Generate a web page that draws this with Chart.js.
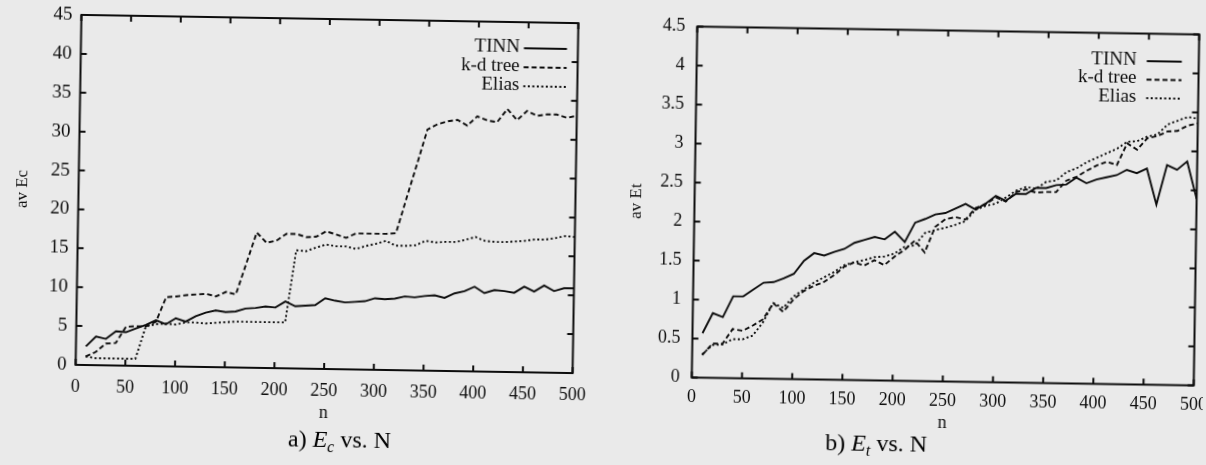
<!DOCTYPE html>
<html><head><meta charset="utf-8">
<script src="https://cdn.jsdelivr.net/npm/chart.js@4.4.0/dist/chart.umd.min.js"></script>
<style>
html,body{margin:0;padding:0;width:1206px;height:465px;overflow:hidden;background:#eaeaea;}
.wrap{position:absolute;top:0;height:465px;width:603px;}
#wa{left:0;transform-origin:327px 194px;transform:rotate(0.95deg);}
#wb{left:603px;transform-origin:342.5px 206px;transform:rotate(0.9deg);}
canvas{display:block;position:absolute;left:0;top:0;}
.cap{position:absolute;font-family:'Liberation Serif','DejaVu Serif',serif;font-size:24px;color:#000;white-space:nowrap;line-height:28px;}
.cap sub{font-size:16px;vertical-align:-5px;line-height:0;}
</style></head>
<body>
<div class="wrap" id="wa"><canvas id="ca" width="603" height="465"></canvas>
  <div class="cap" style="left:292px;top:425px;">a) <i>E</i><sub><i>c</i></sub> vs. N</div>
</div>
<div class="wrap" id="wb"><canvas id="cb" width="603" height="465"></canvas>
  <div class="cap" style="left:226px;top:430px;">b) <i>E</i><sub><i>t</i></sub> vs. N</div>
</div>
<script>
// ---- data ----
const nValues = [10,20,30,40,50,60,70,80,90,100,110,120,130,140,150,160,170,180,190,200,
  210,220,230,240,250,260,270,280,290,300,310,320,330,340,350,360,370,380,390,400,
  410,420,430,440,450,460,470,480,490,500];
const seriesNames = ['TINN','k-d tree','Elias'];

// a) Ec vs N
const ecTINN = [2.4,3.7,3.4,4.4,4.3,4.8,5.3,5.9,5.4,6.2,5.8,6.5,7.0,7.3,7.1,7.2,7.6,7.7,7.9,7.8,
  8.6,8.0,8.1,8.2,9.1,8.8,8.6,8.7,8.8,9.2,9.1,9.2,9.5,9.4,9.6,9.7,9.4,10.0,10.3,10.9,
  10.1,10.5,10.4,10.2,11.0,10.4,11.2,10.5,10.9,10.9];
const ecKd = [1.1,1.7,2.8,2.9,5.0,5.1,5.1,5.7,8.9,9.0,9.2,9.3,9.4,9.1,9.7,9.4,13.4,17.4,16.1,16.4,
  17.3,17.3,16.9,17.0,17.7,17.3,16.9,17.5,17.5,17.5,17.5,17.6,22.1,26.5,31.0,31.7,32.1,32.3,31.6,32.8,
  32.3,32.1,33.8,32.4,33.6,33.0,33.2,33.2,32.8,33.1];
const ecElias = [1.1,0.9,0.9,0.9,0.9,0.9,5.1,5.4,5.5,5.4,5.7,5.7,5.6,5.7,5.8,5.9,5.9,5.9,5.9,5.9,
  5.9,15.2,15.1,15.6,16.0,15.8,15.8,15.5,15.9,16.2,16.6,16.0,16.0,16.1,16.7,16.5,16.6,16.6,16.9,17.3,
  16.8,16.7,16.7,16.8,16.9,17.1,17.1,17.3,17.6,17.5];

// b) Et vs N
const etTINN = [0.57,0.83,0.78,1.05,1.05,1.14,1.23,1.24,1.29,1.35,1.52,1.62,1.59,1.64,1.68,1.76,1.80,1.84,1.81,1.91,
  1.78,2.03,2.08,2.14,2.16,2.22,2.28,2.21,2.29,2.39,2.33,2.42,2.42,2.50,2.50,2.54,2.55,2.64,2.57,2.62,
  2.65,2.68,2.75,2.71,2.77,2.31,2.82,2.76,2.87,2.39];
const etKd = [0.29,0.44,0.44,0.63,0.61,0.68,0.76,0.97,0.86,1.02,1.13,1.20,1.25,1.34,1.45,1.51,1.47,1.54,1.48,1.59,
  1.68,1.80,1.65,1.98,2.08,2.11,2.08,2.23,2.28,2.37,2.32,2.44,2.48,2.44,2.45,2.45,2.60,2.65,2.73,2.80,
  2.85,2.81,3.09,3.01,3.16,3.19,3.25,3.26,3.33,3.36];
const etElias = [0.30,0.42,0.43,0.50,0.50,0.55,0.72,0.97,0.91,1.06,1.15,1.24,1.31,1.38,1.47,1.51,1.54,1.58,1.59,1.63,
  1.72,1.74,1.90,1.94,1.97,2.01,2.06,2.21,2.26,2.29,2.37,2.46,2.51,2.49,2.58,2.60,2.71,2.76,2.84,2.90,
  2.96,3.02,3.11,3.12,3.18,3.21,3.34,3.39,3.44,3.42];

// tick labels
const xTickLabels = ['0','50','100','150','200','250','300','350','400','450','500'];
const ecTickLabels = ['0','5','10','15','20','25','30','35','40','45'];
const etTickLabels = ['0','0.5','1','1.5','2','2.5','3','3.5','4','4.5'];

// ---- styling ----
const INK = '#0d0d0d';
const SERIF = "'Liberation Serif','DejaVu Serif','Times New Roman',serif";
Chart.defaults.font.family = SERIF;
Chart.defaults.color = INK;
const dashes = [[], [5,3], [2,2.5]];

function mkData(vals){ return nValues.map((n,i)=>({x:n, y:vals[i]})); }
function mkSets(arrs){
  return arrs.map((v,i)=>({label:seriesNames[i], data:mkData(v), borderColor:INK, borderWidth:1.9,
    borderDash:dashes[i], pointRadius:0, tension:0, fill:false}));
}

const framePlugin = {
  id:'frame',
  afterDatasetsDraw(chart, args, o){
    const {ctx, chartArea:a, scales:{x,y}} = chart;
    ctx.save();
    ctx.strokeStyle = INK; ctx.lineWidth = 2; ctx.setLineDash([]);
    ctx.strokeRect(a.left, a.top, a.right-a.left, a.bottom-a.top);
    ctx.beginPath();
    x.ticks.forEach(t=>{ const p=x.getPixelForValue(t.value);
      ctx.moveTo(p,a.bottom); ctx.lineTo(p,a.bottom-o.tick);
      ctx.moveTo(p,a.top); ctx.lineTo(p,a.top+o.tick); });
    y.ticks.forEach(t=>{ const p=y.getPixelForValue(t.value);
      ctx.moveTo(a.left,p); ctx.lineTo(a.left+o.tick,p);
      ctx.moveTo(a.right,p); ctx.lineTo(a.right-o.tick,p); });
    ctx.stroke();
    // legend
    ctx.font = o.legFont + 'px ' + SERIF;
    ctx.fillStyle = INK; ctx.textAlign = 'right'; ctx.textBaseline = 'middle';
    chart.data.datasets.forEach((ds,i)=>{
      const yy = a.top + o.legTop + i*o.legGap;
      const tx = a.right - o.legRight;
      ctx.fillText(ds.label, tx, yy);
      ctx.beginPath(); ctx.lineWidth = 1.9; ctx.setLineDash(ds.borderDash||[]);
      ctx.moveTo(tx + o.sGap, yy+1); ctx.lineTo(tx + o.sGap + o.sLen, yy+1); ctx.stroke();
    });
    ctx.restore();
  }
};

function makeChart(id, sets, yMax, yStep, yLabels, yTitle, g){
  return new Chart(document.getElementById(id), {
    type:'line',
    data:{datasets:sets},
    plugins:[framePlugin],
    options:{
      responsive:false, animation:false, events:[],
      layout:{padding:{left:0, top:g.top, right:g.right, bottom:0}},
      plugins:{legend:{display:false}, tooltip:{enabled:false},
        frame:{tick:6, legFont:19, legTop:g.legTop, legGap:g.legGap, legRight:g.legRight, sGap:g.sGap, sLen:g.sLen}},
      scales:{
        x:{type:'linear', min:0, max:500,
          grid:{display:false, drawTicks:false}, border:{display:false},
          ticks:{stepSize:50, padding:g.xPad, autoSkip:false, maxRotation:0, color:INK,
            font:{size:g.xFont}, callback:(v,i)=>xTickLabels[i]},
          title:{display:true, text:'n', color:INK, font:{size:18}, padding:{top:0, bottom:g.nPad}},
          afterFit(s){ s.height = 465 - g.bottom; s.paddingLeft = 0; s.paddingRight = 0; }
        },
        y:{type:'linear', min:0, max:yMax,
          grid:{display:false, drawTicks:false}, border:{display:false},
          ticks:{stepSize:yStep, padding:g.yPad, color:INK, font:{size:g.yFont}, callback:(v,i)=>yLabels[i]},
          title:{display:true, text:yTitle, color:INK, font:{size:17}, padding:{top:g.tPad, bottom:0}},
          afterFit(s){ s.width = g.left; s.paddingTop = 0; s.paddingBottom = 0; }
        }
      }
    }
  });
}

makeChart('ca', mkSets([ecTINN, ecKd, ecElias]), 45, 5, ecTickLabels, 'av Ec',
  {left:78.5, top:19, right:27.5, bottom:369, xPad:11, xFont:18, yPad:9, yFont:19, nPad:41, tPad:12,
   legTop:25, legGap:19, legRight:58, sGap:4, sLen:43});
makeChart('cb', mkSets([etTINN, etKd, etElias]), 4.5, 0.5, etTickLabels, 'av Et',
  {left:91.5, top:30.5, right:9.5, bottom:381.5, xPad:9, xFont:18, yPad:12, yFont:18, nPad:31, tPad:23,
   legTop:26.5, legGap:18.5, legRight:62, sGap:10, sLen:35});
</script>
</body></html>
